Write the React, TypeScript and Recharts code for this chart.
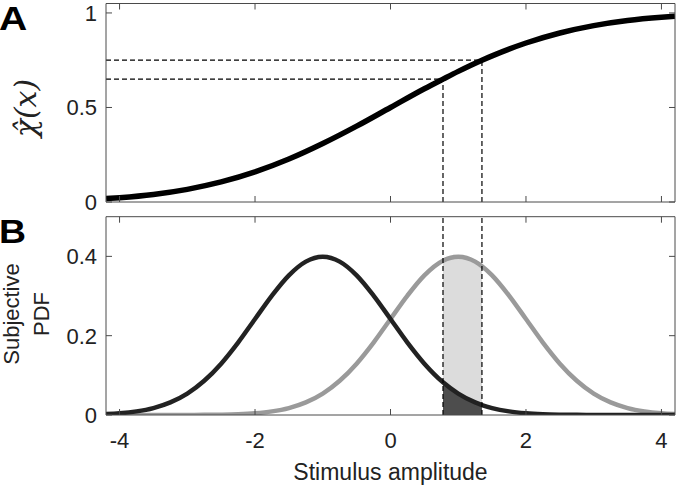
import React from "react";
import { Area, ComposedChart, Line, ReferenceLine, XAxis, YAxis } from "recharts";

// thresholds and the curve values at them
const lowCut = 0.775;
const highCut = 1.35;
const chiLow = 0.65;
const chiHigh = 0.75;

const xTicks = [-4, -2, 0, 2, 4];
const topTicks = [0, 0.5, 1];
const bottomTicks = [0, 0.2, 0.4];

// panel A: chi-hat(x)
const chiX = [-4.2, -4, -3.5, -3, -2.5, -2, -1.5, -1, -0.5, 0, 0.5, 0.775, 1, 1.35, 1.5, 2, 2.5, 3, 3.5, 4, 4.2];
const chiY = [0.018, 0.023, 0.04, 0.067, 0.106, 0.159, 0.227, 0.309, 0.401, 0.5, 0.599, 0.65, 0.691, 0.75, 0.773, 0.841, 0.894, 0.933, 0.96, 0.977, 0.982];

// panel B: two subjective PDFs
const pdfX = [-4.2, -4, -3.75, -3.5, -3.25, -3, -2.75, -2.5, -2.25, -2, -1.75, -1.5, -1.25, -1, -0.75, -0.5, -0.25, 0, 0.25, 0.5, 0.775, 1, 1.25, 1.35, 1.5, 1.75, 2, 2.25, 2.5, 2.75, 3, 3.25, 3.5, 3.75, 4, 4.2];
const darkPdf = [0.0024, 0.0044, 0.0091, 0.0175, 0.0317, 0.054, 0.0863, 0.1295, 0.1826, 0.242, 0.3011, 0.3521, 0.3867, 0.3989, 0.3867, 0.3521, 0.3011, 0.242, 0.1826, 0.1295, 0.0825, 0.054, 0.0317, 0.0252, 0.0175, 0.0091, 0.0044, 0.002, 0.0009, 0.0004, 0.0001, 0.00005, 0, 0, 0, 0];
const greyPdf = [0, 0, 0, 0, 0.00005, 0.0001, 0.0004, 0.0009, 0.002, 0.0044, 0.0091, 0.0175, 0.0317, 0.054, 0.0863, 0.1295, 0.1826, 0.242, 0.3011, 0.3521, 0.389, 0.3989, 0.3867, 0.3752, 0.3521, 0.3011, 0.242, 0.1826, 0.1295, 0.0863, 0.054, 0.0317, 0.0175, 0.0091, 0.0044, 0.0024];

const topData = chiX.map((x, i) => ({ x, chi: chiY[i] }));
const bottomData = pdfX.map((x, i) => {
  const inside = x >= lowCut && x <= highCut;
  return {
    x,
    dark: darkPdf[i],
    grey: greyPdf[i],
    greyFill: inside ? greyPdf[i] : null,
    darkFill: inside ? darkPdf[i] : null,
  };
});

const frame = "#4a4a4a";
const font = "'Liberation Sans', Arial, sans-serif";
const TL = 6;

const bottomTick = (labels: boolean) => (p: any) => (
  <g>
    <line x1={p.x} y1={p.y} x2={p.x} y2={p.y - TL} stroke={frame} />
    {labels && (
      <text x={p.x} y={p.y + 33} textAnchor="middle" fontSize={22} fill="#222" fontFamily={font}>
        {String(p.payload.value)}
      </text>
    )}
  </g>
);
const topTick = (p: any) => <line x1={p.x} y1={p.y} x2={p.x} y2={p.y + TL} stroke={frame} />;
const leftTick = (p: any) => (
  <g>
    <line x1={p.x} y1={p.y} x2={p.x + TL} y2={p.y} stroke={frame} />
    <text x={p.x - 9} y={p.y} dy="0.36em" textAnchor="end" fontSize={22} fill="#222" fontFamily={font}>
      {String(p.payload.value)}
    </text>
  </g>
);
const rightTick = (p: any) => <line x1={p.x} y1={p.y} x2={p.x - TL} y2={p.y} stroke={frame} />;

export default function App() {
  const dash = "5 3";
  return (
    <div style={{ position: "absolute", left: 0, top: 0, width: 680, height: 489, background: "#fff", fontFamily: font }}>
      <div style={{ position: "absolute", left: 0, top: 0 }}>
        <ComposedChart width={680} height={222} data={topData} margin={{ top: 2.5, right: 4, bottom: 19, left: 105 }} style={{ overflow: "visible" }}>
          <XAxis xAxisId="b" dataKey="x" type="number" domain={[-4.2, 4.2]} ticks={xTicks} interval={0} height={1} tickSize={0} tickMargin={0} stroke={frame} tick={bottomTick(false)} tickLine={false} allowDataOverflow />
          <XAxis xAxisId="t" orientation="top" dataKey="x" type="number" domain={[-4.2, 4.2]} ticks={xTicks} interval={0} height={1} tickSize={0} tickMargin={0} stroke={frame} tick={topTick} tickLine={false} allowDataOverflow />
          <YAxis yAxisId="l" type="number" domain={[0, 1.05]} ticks={topTicks} interval={0} width={1} tickSize={0} tickMargin={0} stroke={frame} tick={leftTick} tickLine={false} allowDataOverflow />
          <YAxis yAxisId="r" orientation="right" type="number" domain={[0, 1.05]} ticks={topTicks} interval={0} width={1} tickSize={0} tickMargin={0} stroke={frame} tick={rightTick} tickLine={false} allowDataOverflow />
          <ReferenceLine xAxisId="b" yAxisId="l" segment={[{ x: -4.2, y: chiLow }, { x: lowCut, y: chiLow }]} stroke="#000" strokeDasharray={dash} strokeWidth={1.2} />
          <ReferenceLine xAxisId="b" yAxisId="l" segment={[{ x: -4.2, y: chiHigh }, { x: highCut, y: chiHigh }]} stroke="#000" strokeDasharray={dash} strokeWidth={1.2} />
          <ReferenceLine xAxisId="b" yAxisId="l" segment={[{ x: lowCut, y: 0 }, { x: lowCut, y: chiLow }]} stroke="#000" strokeDasharray={dash} strokeWidth={1.2} />
          <ReferenceLine xAxisId="b" yAxisId="l" segment={[{ x: highCut, y: 0 }, { x: highCut, y: chiHigh }]} stroke="#000" strokeDasharray={dash} strokeWidth={1.2} />
          <Line xAxisId="b" yAxisId="l" type="monotone" dataKey="chi" stroke="#000" strokeWidth={5.5} dot={false} isAnimationActive={false} />
        </ComposedChart>
      </div>

      <div style={{ position: "absolute", left: 0, top: 210 }}>
        <ComposedChart width={680} height={279} data={bottomData} margin={{ top: 5.7, right: 4, bottom: 73, left: 105 }}>
          <XAxis xAxisId="b" dataKey="x" type="number" domain={[-4.2, 4.2]} ticks={xTicks} interval={0} height={1} tickSize={0} tickMargin={0} stroke={frame} tick={bottomTick(true)} tickLine={false} allowDataOverflow />
          <XAxis xAxisId="t" orientation="top" dataKey="x" type="number" domain={[-4.2, 4.2]} ticks={xTicks} interval={0} height={1} tickSize={0} tickMargin={0} stroke={frame} tick={topTick} tickLine={false} allowDataOverflow />
          <YAxis yAxisId="l" type="number" domain={[0, 0.5]} ticks={bottomTicks} interval={0} width={1} tickSize={0} tickMargin={0} stroke={frame} tick={leftTick} tickLine={false} allowDataOverflow />
          <YAxis yAxisId="r" orientation="right" type="number" domain={[0, 0.5]} ticks={bottomTicks} interval={0} width={1} tickSize={0} tickMargin={0} stroke={frame} tick={rightTick} tickLine={false} allowDataOverflow />
          <Area xAxisId="b" yAxisId="l" type="monotone" dataKey="greyFill" stroke="none" fill="#dcdcdc" fillOpacity={1} isAnimationActive={false} />
          <Area xAxisId="b" yAxisId="l" type="monotone" dataKey="darkFill" stroke="none" fill="#4d4d4d" fillOpacity={1} isAnimationActive={false} />
          <Line xAxisId="b" yAxisId="l" type="monotone" dataKey="grey" stroke="#9a9a9a" strokeWidth={4.5} dot={false} isAnimationActive={false} />
          <Line xAxisId="b" yAxisId="l" type="monotone" dataKey="dark" stroke="#222" strokeWidth={4.5} dot={false} isAnimationActive={false} />
          <ReferenceLine xAxisId="b" yAxisId="l" x={lowCut} stroke="#000" strokeDasharray={dash} strokeWidth={1.2} />
          <ReferenceLine xAxisId="b" yAxisId="l" x={highCut} stroke="#000" strokeDasharray={dash} strokeWidth={1.2} />
        </ComposedChart>
      </div>

      <div style={{ position: "absolute", left: -1, top: -1, fontSize: 34, fontWeight: "bold", color: "#000", lineHeight: "38px", transform: "scaleX(1.15)", transformOrigin: "left" }}>A</div>
      <div style={{ position: "absolute", left: -1, top: 212, fontSize: 34, fontWeight: "bold", color: "#000", lineHeight: "38px", transform: "scaleX(1.1)", transformOrigin: "left" }}>B</div>

      <div style={{ position: "absolute", left: 25, top: 108, width: 0, height: 0 }}>
        <div style={{ position: "absolute", transform: "translate(-50%, -50%) rotate(-90deg)", whiteSpace: "nowrap", fontFamily: "'DejaVu Serif', serif", fontStyle: "italic", fontSize: 30, color: "#222" }}>
          χ̂(x)
        </div>
      </div>
      <div style={{ position: "absolute", left: 27, top: 314, width: 0, height: 0 }}>
        <div style={{ position: "absolute", transform: "translate(-50%, -50%) rotate(-90deg)", whiteSpace: "nowrap", fontSize: 22, lineHeight: "30px", textAlign: "center", color: "#222" }}>
          Subjective
          <br />
          PDF
        </div>
      </div>
      <div style={{ position: "absolute", left: 106, width: 569, top: 459, textAlign: "center", fontSize: 23, lineHeight: "26px", color: "#222" }}>
        Stimulus amplitude
      </div>
    </div>
  );
}
